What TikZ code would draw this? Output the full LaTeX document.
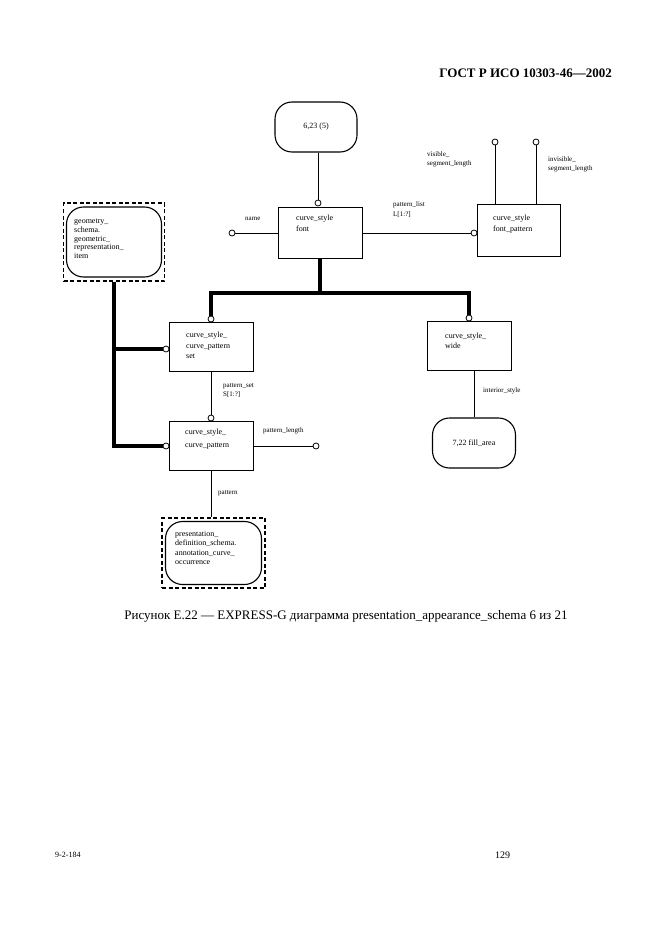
\documentclass[tikz,border=0pt]{standalone}
\usepackage{fontspec}
\setmainfont{Liberation Serif}
\begin{document}
\begin{tikzpicture}[x=1pt,y=-1pt,
  thinl/.style={line width=1pt},
  thickl/.style={line width=3.5pt},
  entbox/.style={draw, line width=1pt, rectangle, inner sep=0pt},
  refbox/.style={draw, line width=1.1pt, rounded corners=17pt, inner sep=0pt, font=\fontsize{8}{9}\selectfont},
  outerdash/.style={draw, line width=1.3pt, dash pattern=on 4pt off 2.5pt, inner sep=0pt},
  conn/.style={draw, circle, line width=0.8pt, fill=white, minimum size=6pt, inner sep=0pt},
  boxtxt/.style={anchor=north west, align=left, inner sep=0pt},
  lbl/.style={inner sep=0pt, align=left, font=\fontsize{7}{9}\selectfont}
]
\useasboundingbox (0,0) rectangle (661,936);

% header, caption, footer
\node[anchor=east, inner sep=0pt, font=\bfseries\fontsize{13}{15}\selectfont] (hdr) at (612,73) {ГОСТ Р ИСО 10303-46—2002};
\node[inner sep=0pt, font=\fontsize{13}{15}\selectfont] (cap) at (346,616) {Рисунок Е.22 — EXPRESS-G диаграмма presentation\_appearance\_schema 6 из 21};
\node[anchor=west, inner sep=0pt, font=\fontsize{8}{9}\selectfont] (ftl) at (55,855) {9-2-184};
\node[anchor=west, inner sep=0pt, font=\fontsize{10}{12}\selectfont] (ftr) at (495,855) {129};

% boxes
\node[refbox, minimum width=82pt, minimum height=50pt] (ref623) at (316,127) {6,23 (5)};
\node[entbox, minimum width=84pt, minimum height=51pt] (font) at (320,233) {};
\node[boxtxt, font=\fontsize{8}{11}\selectfont] (fonttxt) at (296,215) {curve\_style\\font};
\node[entbox, minimum width=83pt, minimum height=52pt] (fp) at (518.5,230) {};
\node[boxtxt, font=\fontsize{8}{10.5}\selectfont] (fptxt) at (493,215) {curve\_style\\font\_pattern};
\node[entbox, minimum width=84pt, minimum height=49pt] (set) at (211,346.5) {};
\node[boxtxt, font=\fontsize{8}{10.5}\selectfont] (settxt) at (186,332) {curve\_style\_\\curve\_pattern\\set};
\node[entbox, minimum width=84pt, minimum height=49pt] (wide) at (469,345.5) {};
\node[boxtxt, font=\fontsize{8}{9.5}\selectfont] (widetxt) at (445,333) {curve\_style\_\\wide};
\node[entbox, minimum width=84pt, minimum height=49pt] (pat) at (211,446) {};
\node[boxtxt, font=\fontsize{8}{12.5}\selectfont] (pattxt) at (185,429) {curve\_style\_\\curve\_pattern};
\node[refbox, minimum width=83pt, minimum height=50pt] (fill) at (474,443) {7,22 fill\_area};

% dashed references
\node[outerdash, minimum width=101pt, minimum height=78pt] (geo) at (114,242) {};
\node[refbox, minimum width=95pt, minimum height=70pt] (geoin) at (114,242) {};
\node[boxtxt, font=\fontsize{8}{8.7}\selectfont] (geotxt) at (74,219) {geometry\_\\schema.\\geometric\_\\representation\_\\item};
\node[outerdash, minimum width=103pt, minimum height=70pt] (pres) at (213.5,553) {};
\node[refbox, minimum width=96pt, minimum height=63pt] (presin) at (213.5,553) {};
\node[boxtxt, font=\fontsize{8}{9.3}\selectfont] (prestxt) at (175,531) {presentation\_\\definition\_schema.\\annotation\_curve\_\\occurrence};

% connector circles
\node[conn] (ctop) at (318,203) {};
\node[conn] (cname) at (232,233) {};
\node[conn] (cplist) at (474,233) {};
\node[conn] (cvis) at (495,142) {};
\node[conn] (cinv) at (536,142) {};
\node[conn] (csetT) at (211,319) {};
\node[conn] (cwideT) at (469,318) {};
\node[conn] (csetL) at (166,349) {};
\node[conn] (cpatT) at (211,418) {};
\node[conn] (cpatL) at (166,446) {};
\node[conn] (cplen) at (316,446) {};

% thin connectors
\draw[thinl] (ctop |- ref623.south) -- (ctop);
\draw[thinl] (cname) -- (font);
\draw[thinl] (font) -- (cplist);
\draw[thinl] (cvis) -- (cvis |- fp.north);
\draw[thinl] (cinv) -- (cinv |- fp.north);
\draw[thinl] (set) -- (cpatT);
\draw[thinl] (pat) -- (cplen);
\draw[thinl] (pat.south) -- (pat.south |- pres.north);
\draw[thinl] (fill.north |- wide.south) -- (fill.north);

% thick (subtype) connectors
\coordinate (bus) at (320,293);
\draw[thickl] (font.south) -- (bus);
\draw[thickl] (csetT) |- (bus) -| (cwideT);
\draw[thickl] (geo.south) |- (cpatL);
\draw[thickl] (geo.south |- csetL) -- (csetL);

% labels
\node[lbl, anchor=west] (lname) at (245,219) {name};
\node[lbl, anchor=north west, font=\fontsize{7}{10}\selectfont] (lplist) at (393,201) {pattern\_list\\L[1:?]};
\node[lbl, anchor=north west] (lvis) at (427,151) {visible\_\\segment\_length};
\node[lbl, anchor=north west] (linv) at (548,156) {invisible\_\\segment\_length};
\node[lbl, anchor=north west] (lpset) at (223,383) {pattern\_set\\S[1:?]};
\node[lbl, anchor=west] (lplen) at (263,431) {pattern\_length};
\node[lbl, anchor=west] (lint) at (483,391) {interior\_style};
\node[lbl, anchor=west] (lpat) at (218,493) {pattern};
\end{tikzpicture}
\end{document}
